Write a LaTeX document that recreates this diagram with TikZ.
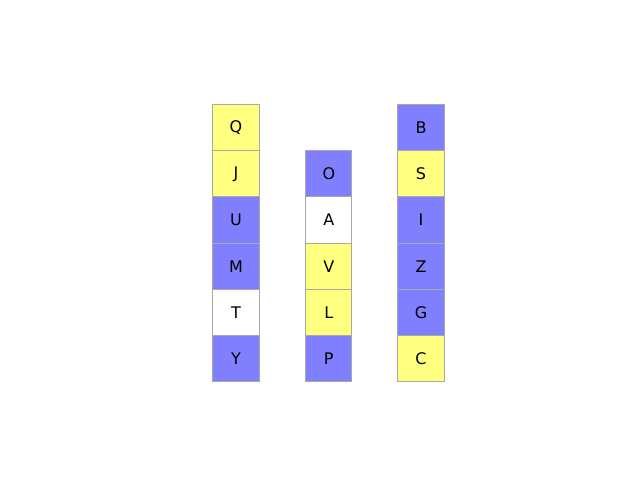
\documentclass[tikz,border=0pt]{standalone}
\usepackage{fontspec}
\setmainfont{DejaVu Sans}
\definecolor{cyel}{HTML}{FFFF80}
\definecolor{cblu}{HTML}{8080FF}
\definecolor{cedge}{HTML}{A8A8A8}
\begin{document}
\begin{tikzpicture}[x=0.75pt,y=-0.75pt,
  cell/.style={draw=cedge,line width=0.75pt,minimum width=34.65pt,minimum height=34.65pt,inner sep=0pt,font=\fontsize{12pt}{14pt}\selectfont,anchor=north west},
  yel/.style={cell,fill=cyel},
  blu/.style={cell,fill=cblu},
  wht/.style={cell,fill=white}]
\useasboundingbox (0,0) rectangle (640,480);
% column 1
\node[yel] (q) at (212.4,104.0) {Q};
\node[yel] (j) at (212.4,150.2) {J};
\node[blu] (u) at (212.4,196.4) {U};
\node[blu] (m) at (212.4,242.6) {M};
\node[wht] (t) at (212.4,288.8) {T};
\node[blu] (y) at (212.4,335.0) {Y};
% column 2
\node[blu] (o) at (305.2,150.2) {O};
\node[wht] (a) at (305.2,196.4) {A};
\node[yel] (v) at (305.2,242.6) {V};
\node[yel] (l) at (305.2,288.8) {L};
\node[blu] (p) at (305.2,335.0) {P};
% column 3
\node[blu] (b) at (397.4,104.0) {B};
\node[yel] (s) at (397.4,150.2) {S};
\node[blu] (i) at (397.4,196.4) {I};
\node[blu] (z) at (397.4,242.6) {Z};
\node[blu] (g) at (397.4,288.8) {G};
\node[yel] (c) at (397.4,335.0) {C};
\end{tikzpicture}
\end{document}
